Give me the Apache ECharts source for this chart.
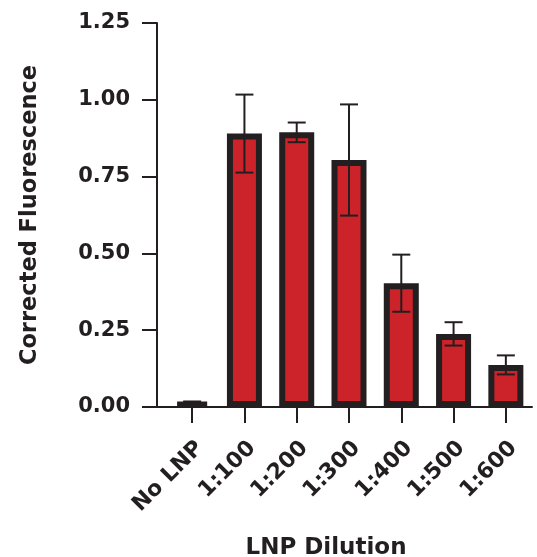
<!DOCTYPE html>
<html>
<head>
<meta charset="utf-8">
<script src="https://cdn.jsdelivr.net/npm/echarts@6/dist/echarts.min.js"></script>
<style>html,body{margin:0;padding:0;background:#fff;}#c{width:537px;height:557px;}</style>
</head>
<body>
<div id="c"></div>
<script>
const categories = ['No LNP', '1:100', '1:200', '1:300', '1:400', '1:500', '1:600'];
const means = [0.016, 0.890, 0.894, 0.804, 0.403, 0.238, 0.137];
const errBarCenters = [0.014, 0.890, 0.894, 0.804, 0.403, 0.238, 0.137];
const errors = [0.004, 0.127, 0.032, 0.181, 0.093, 0.038, 0.031];
const yTicks = [0, 0.25, 0.5, 0.75, 1.0, 1.25];

const ink = '#231f20';
const font = 'DejaVu Sans';

const chart = echarts.init(document.getElementById('c'));
chart.setOption({
  animation: false,
  backgroundColor: '#fff',
  grid: [
    { left: 166, right: 5, top: 23, bottom: 150, outerBoundsMode: 'none', containLabel: false },
    { left: 157, right: 5, top: 23, bottom: 150, outerBoundsMode: 'none', containLabel: false }
  ],
  xAxis: [
    {
      type: 'category', gridIndex: 0, data: categories,
      axisLine: { show: false },
      axisTick: { show: true, alignWithLabel: true, length: 16, lineStyle: { color: ink, width: 2 } },
      axisLabel: { rotate: 45, margin: 30, verticalAlign: 'top', color: ink, fontFamily: font, fontWeight: 'bold', fontSize: 22, interval: 0 },
      name: 'LNP Dilution', nameLocation: 'middle', nameGap: 130,
      nameTextStyle: { color: ink, fontFamily: font, fontWeight: 'bold', fontSize: 23, padding: [0, 46, 0, 0] }
    },
    {
      type: 'value', gridIndex: 1, min: 0, max: 1,
      axisLine: { show: true, lineStyle: { color: ink, width: 2 } },
      axisTick: { show: false }, axisLabel: { show: false }, splitLine: { show: false }
    }
  ],
  yAxis: [
    {
      type: 'value', gridIndex: 0, min: yTicks[0], max: yTicks[yTicks.length - 1], interval: 0.25, offset: 9,
      axisLine: { show: true, lineStyle: { color: ink, width: 2 } },
      axisTick: { show: true, length: 15, lineStyle: { color: ink, width: 2 } },
      axisLabel: { margin: 27, color: ink, fontFamily: font, fontWeight: 'bold', fontSize: 21,
        formatter: v => v.toFixed(2) },
      splitLine: { show: false },
      name: 'Corrected Fluorescence', nameLocation: 'middle', nameGap: 115,
      nameTextStyle: { color: ink, fontFamily: font, fontWeight: 'bold', fontSize: 22.5 }
    },
    { type: 'value', gridIndex: 1, show: false, min: 0, max: 1 }
  ],
  series: [
    {
      type: 'bar', xAxisIndex: 0, yAxisIndex: 0, data: means, barWidth: 35,
      itemStyle: { color: '#cc2229', borderColor: ink, borderWidth: 6 }, z: 2
    },
    {
      type: 'custom', xAxisIndex: 0, yAxisIndex: 0, z: 5,
      data: errBarCenters.map((m, i) => [i, m - errors[i], m + errors[i]]),
      renderItem: function (params, api) {
        const x = api.value(0);
        const lo = api.coord([x, api.value(1)]);
        const hi = api.coord([x, api.value(2)]);
        const hw = 9;
        const st = { stroke: ink, lineWidth: 2 };
        return {
          type: 'group',
          children: [
            { type: 'line', shape: { x1: lo[0], y1: lo[1], x2: hi[0], y2: hi[1] }, style: st },
            { type: 'line', shape: { x1: hi[0] - hw, y1: hi[1], x2: hi[0] + hw, y2: hi[1] }, style: st },
            { type: 'line', shape: { x1: lo[0] - hw, y1: lo[1], x2: lo[0] + hw, y2: lo[1] }, style: st }
          ]
        };
      }
    }
  ]
});
</script>
</body>
</html>
